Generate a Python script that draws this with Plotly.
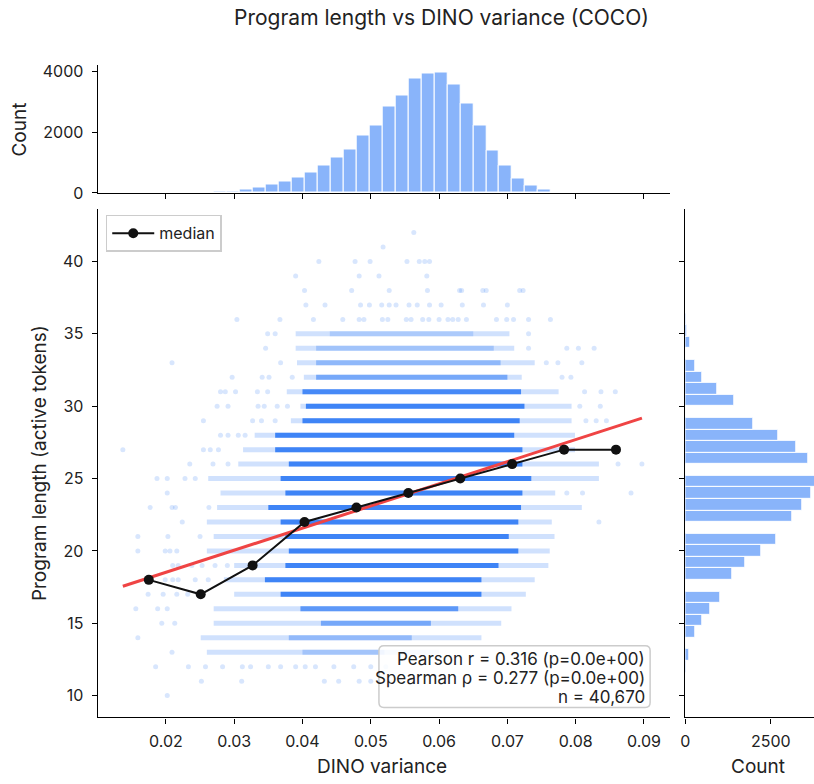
import plotly.graph_objects as go

# ---------------- data ----------------
# Top histogram: DINO variance, 40 bins of equal width starting at the minimum
dino_bin_start = 0.0137
dino_bin_width = 0.0019
dino_counts = [1, 0, 1, 3, 4, 8, 20, 55, 55, 120, 186, 285, 384, 504, 680, 910,
               1173, 1436, 1896, 2236, 2838, 3211, 3759, 3923, 3956, 3562, 2948,
               2214, 1403, 910, 471, 241, 110, 22, 8, 4, 2, 1, 0, 1]

# Right histogram: program length (integer), 40 bins of width 0.8 from 10 to 42
len_values = list(range(10, 43))
len_counts = [2, 8, 20, 125, 287, 508, 728, 1015, 1370, 1744, 2232, 2673, 3133,
              3420, 3688, 3950, 3592, 3257, 2720, 1993, 1427, 939, 508, 297, 144,
              48, 20, 10, 5, 2, 7, 1, 1]
len_bin_start = 10
len_bin_width = 0.8

# Scatter rows (length 13..35): pale extent and dense core extent along DINO variance
row_len = list(range(13, 36))
row_light_lo = [0.0260, 0.0251, 0.0270, 0.0270, 0.0300, 0.0285, 0.0300, 0.0260,
                0.0270, 0.0260, 0.0275, 0.0280, 0.0262, 0.0306, 0.0313, 0.0330,
                0.0383, 0.0397, 0.0377, 0.0402, 0.0392, 0.0390, 0.0390]
row_core_lo = [0.0400, 0.0380, 0.0427, 0.0397, 0.0368, 0.0345, 0.0375, 0.0380,
               0.0375, 0.0368, 0.0350, 0.0375, 0.0368, 0.0380, 0.0360, 0.0360,
               0.0400, 0.0405, 0.0400, 0.0420, 0.0420, 0.0420, 0.0440]
row_core_hi = [0.0520, 0.0560, 0.0588, 0.0628, 0.0662, 0.0662, 0.0687, 0.0716,
               0.0702, 0.0716, 0.0720, 0.0722, 0.0735, 0.0722, 0.0722, 0.0710,
               0.0718, 0.0725, 0.0720, 0.0700, 0.0690, 0.0680, 0.0650]
row_light_hi = [0.0600, 0.0662, 0.0691, 0.0706, 0.0727, 0.0740, 0.0760, 0.0762,
                0.0769, 0.0765, 0.0809, 0.0770, 0.0834, 0.0834, 0.0799, 0.0799,
                0.0794, 0.0794, 0.0775, 0.0721, 0.0740, 0.0710, 0.0703]

# Individual sparse points (outliers and sparse rows)
sparse_x = [
    0.0563,
    0.0518,
    0.0424, 0.0477, 0.0499, 0.0553, 0.0571, 0.0579, 0.0586,
    0.0390, 0.0483, 0.0512, 0.0582,
    0.0403, 0.0472, 0.0527, 0.0583, 0.0630, 0.0633, 0.0664, 0.0669, 0.0718, 0.0723,
    0.0405, 0.0433, 0.0485, 0.0498, 0.0516, 0.0527, 0.0537, 0.0556, 0.0568, 0.0586,
    0.0603, 0.0634, 0.0665, 0.0700,
    0.0304, 0.0367, 0.0416, 0.0459, 0.0483, 0.0490, 0.0517, 0.0525, 0.0552, 0.0559,
    0.0576, 0.0585, 0.0600, 0.0613, 0.0620, 0.0628, 0.0640, 0.0684, 0.0699, 0.0709,
    0.0731, 0.0763,
    0.0349, 0.0360, 0.0731,
    0.0346, 0.0731, 0.0787, 0.0804, 0.0827,
    0.0209, 0.0368, 0.0757, 0.0774, 0.0809,
    0.0297, 0.0341, 0.0351, 0.0385, 0.0780, 0.0793,
    0.0280, 0.0287, 0.0302, 0.0334, 0.0349, 0.0813, 0.0837, 0.0858,
    0.0275, 0.0291, 0.0335, 0.0344, 0.0363, 0.0378, 0.0806, 0.0836,
    0.0255, 0.0327, 0.0340, 0.0360, 0.0815, 0.0830, 0.0845,
    0.0280, 0.0291, 0.0306, 0.0316,
    0.0137, 0.0255, 0.0265, 0.0277,
    0.0235, 0.0269, 0.0291, 0.0862, 0.0897,
    0.0187, 0.0202, 0.0228, 0.0243,
    0.0202, 0.0787, 0.0810, 0.0881,
    0.0177, 0.0209, 0.0214, 0.0263,
    0.0224, 0.0834,
    0.0159, 0.0203, 0.0250,
    0.0159, 0.0199, 0.0206, 0.0216,
    0.0210, 0.0218, 0.0238, 0.0253, 0.0272, 0.0290,
    0.0177, 0.0199, 0.0210, 0.0218, 0.0243, 0.0262,
    0.0174, 0.0196, 0.0216, 0.0232,
    0.0156, 0.0188, 0.0202,
    0.0194, 0.0213,
    0.0159,
    0.0209,
    0.0185, 0.0233, 0.0258, 0.0283, 0.0312, 0.0324, 0.0350, 0.0368, 0.0390, 0.0404,
    0.0419, 0.0446, 0.0475, 0.0500, 0.0522,
    0.0252, 0.0311, 0.0432, 0.0453, 0.0483, 0.0500,
    0.0202,
]
sparse_y = (
    [42] + [41] + [40] * 7 + [39] * 4 + [38] * 10 + [37] * 14 + [36] * 22
    + [35] * 3 + [34] * 5 + [33] * 5 + [32] * 6 + [31] * 8 + [30] * 8 + [29] * 7
    + [28] * 4 + [27] * 4 + [26] * 5 + [25] * 4 + [24] * 4 + [23] * 4 + [22] * 2
    + [21] * 3 + [20] * 4 + [19] * 6 + [18] * 6 + [17] * 4 + [16] * 3 + [15] * 2
    + [14] + [13] + [12] * 15 + [11] * 6 + [10]
)

# Binned medians
median_x = [0.0175, 0.0251, 0.0327, 0.0403, 0.0479, 0.0555, 0.0631, 0.0707, 0.0783, 0.0859]
median_y = [18, 17, 19, 22, 23, 24, 25, 26, 27, 27]

# Linear fit
fit_slope = 152.9
fit_intercept = 15.46
fit_x_range = [0.0137, 0.0897]

stats_lines = ["Pearson r = 0.316 (p=0.0e+00)",
               "Spearman ρ = 0.277 (p=0.0e+00)",
               "n = 40,670"]

# ---------------- figure ----------------
W, H = 814, 784
BLUE = "59,130,246"
FONT = "Inter, Noto Sans, sans-serif"
INK = "#222222"


def PX(p):  # target pixel column -> paper x
    return ((p - 5.7) / 0.9895) / W


def PY(p):  # target pixel row -> paper y
    return 1 - ((p - 1.2) / 0.988) / H


fig = go.Figure()

# scatter rows: pale extent
lx, ly = [], []
for L, a, b in zip(row_len, row_light_lo, row_light_hi):
    lx += [a, b, None]
    ly += [L, L, None]
fig.add_trace(go.Scatter(x=lx, y=ly, mode="lines", showlegend=False, hoverinfo="skip",
                         line=dict(color=f"rgba({BLUE},0.24)", width=5)))
# scatter rows: dense core, opacity from row count
count_of = dict(zip(len_values, len_counts))
for L, a, b in zip(row_len, row_core_lo, row_core_hi):
    alpha = 0.2 + 0.78 * min(1.0, count_of[L] / 1000)
    fig.add_trace(go.Scatter(x=[a, b], y=[L, L], mode="lines", showlegend=False,
                             hoverinfo="skip",
                             line=dict(color=f"rgba({BLUE},{alpha:.2f})", width=5)))
# sparse points
fig.add_trace(go.Scatter(x=sparse_x, y=sparse_y, mode="markers", showlegend=False,
                         hoverinfo="skip",
                         marker=dict(size=5, color=f"rgba({BLUE},0.2)", line=dict(width=0))))

# fit line
fig.add_trace(go.Scatter(x=fit_x_range,
                         y=[fit_intercept + fit_slope * v for v in fit_x_range],
                         mode="lines", showlegend=False,
                         line=dict(color="#ef4444", width=3)))
# median
fig.add_trace(go.Scatter(x=median_x, y=median_y, mode="lines+markers", name="median",
                         line=dict(color="#111111", width=2),
                         marker=dict(size=10, color="#111111")))

# top histogram
dino_centers = [dino_bin_start + (i + 0.5) * dino_bin_width for i in range(len(dino_counts))]
fig.add_trace(go.Bar(x=dino_centers, y=dino_counts, width=dino_bin_width,
                     xaxis="x2", yaxis="y2", showlegend=False,
                     marker=dict(color=f"rgba({BLUE},0.6)", line=dict(color="white", width=1))))

# right histogram
len_centers = [len_bin_start + (int((v - len_bin_start) / len_bin_width + 1e-9) + 0.5) * len_bin_width
               for v in len_values]
fig.add_trace(go.Bar(y=len_centers, x=len_counts, width=len_bin_width, orientation="h",
                     xaxis="x3", yaxis="y3", showlegend=False,
                     marker=dict(color=f"rgba({BLUE},0.6)", line=dict(color="white", width=1))))

X_DOM = [PX(98), PX(668)]
Y_DOM = [PY(719), PY(208)]
TOP_DOM = [PY(192), PY(63)]
RIGHT_DOM = [PX(683), 1.0]
X_RANGE = [0.01002, 0.09384]
Y_RANGE = [8.49, 43.64]

TICK = 16
LABEL = 19

axis_common = dict(showline=True, linecolor="black", linewidth=1.2, ticks="outside",
                   ticklen=5, tickwidth=1.2, tickcolor="black", showgrid=False,
                   zeroline=False, mirror=False,
                   tickfont=dict(size=TICK, color=INK, family=FONT))

fig.update_layout(
    width=W, height=H,
    margin=dict(l=0, r=0, t=0, b=0),
    paper_bgcolor="white", plot_bgcolor="white",
    font=dict(family=FONT, color=INK, size=TICK),
    bargap=0,
    xaxis=dict(domain=X_DOM, range=X_RANGE, dtick=0.01, tick0=0, tickformat=".2f",
               anchor="y", ticklabelstandoff=4, **axis_common),
    yaxis=dict(domain=Y_DOM, range=Y_RANGE, dtick=5, tick0=0, anchor="x",
               ticklabelstandoff=5, **axis_common),
    xaxis2=dict(domain=X_DOM, range=X_RANGE, dtick=0.01, tick0=0, anchor="y2",
                showticklabels=False, **axis_common),
    yaxis2=dict(domain=TOP_DOM, range=[0, 4230], tickvals=[0, 2000, 4000], anchor="x2",
                ticklabelstandoff=5, **axis_common),
    xaxis3=dict(domain=RIGHT_DOM, range=[0, 3764], tickvals=[0, 2500], anchor="y3",
                ticklabelstandoff=4, **axis_common),
    yaxis3=dict(domain=Y_DOM, range=Y_RANGE, dtick=5, tick0=0, anchor="x3",
                showticklabels=False, **axis_common),
    legend=dict(x=PX(106), y=PY(214), xanchor="left", yanchor="top",
                bgcolor="rgba(255,255,255,0.85)", bordercolor="#cccccc", borderwidth=1.5,
                font=dict(size=16, color=INK, family=FONT), itemwidth=42,
                tracegroupgap=0),
    showlegend=True,
)

# statistics box: rounded frame + right-aligned lines
bx0, bx1, by0, by1 = PX(378), PX(648), PY(709), PY(647)
rx, ry = 5 / W, 5 / H
box_path = (f"M {bx0 + rx},{by0} L {bx1 - rx},{by0} Q {bx1},{by0} {bx1},{by0 + ry} "
            f"L {bx1},{by1 - ry} Q {bx1},{by1} {bx1 - rx},{by1} "
            f"L {bx0 + rx},{by1} Q {bx0},{by1} {bx0},{by1 - ry} "
            f"L {bx0},{by0 + ry} Q {bx0},{by0} {bx0 + rx},{by0} Z")
fig.add_shape(type="path", path=box_path, xref="paper", yref="paper",
              fillcolor="rgba(255,255,255,0.85)", line=dict(color="#cccccc", width=1.5),
              layer="above")

annotations = [
    dict(text="Program length vs DINO variance (COCO)", x=PX(440), y=PY(16),
         xref="paper", yref="paper", xanchor="center", yanchor="middle",
         showarrow=False, font=dict(size=21, color=INK, family=FONT)),
    dict(text="DINO variance", x=PX(381), y=PY(768), xref="paper", yref="paper",
         xanchor="center", yanchor="middle", showarrow=False,
         font=dict(size=LABEL, color=INK, family=FONT)),
    dict(text="Count", x=PX(755), y=PY(768), xref="paper", yref="paper",
         xanchor="center", yanchor="middle", showarrow=False,
         font=dict(size=LABEL, color=INK, family=FONT)),
    dict(text="Program length (active tokens)", x=PX(40), y=PY(463), xref="paper",
         yref="paper", xanchor="center", yanchor="middle", textangle=-90, showarrow=False,
         font=dict(size=LABEL, color=INK, family=FONT)),
    dict(text="Count", x=PX(20), y=PY(128), xref="paper", yref="paper",
         xanchor="center", yanchor="middle", textangle=-90, showarrow=False,
         font=dict(size=LABEL, color=INK, family=FONT)),
]
for line_text, row_px in zip(stats_lines, [660, 679, 698]):
    annotations.append(dict(text=line_text, x=PX(645), y=PY(row_px), xref="paper",
                            yref="paper", xanchor="right", yanchor="middle",
                            showarrow=False, font=dict(size=17, color=INK, family=FONT)))
fig.update_layout(annotations=annotations)

fig.write_html("out.html", config={"displayModeBar": False},
               post_script="document.body.style.margin='0';document.body.style.overflow='hidden';")
